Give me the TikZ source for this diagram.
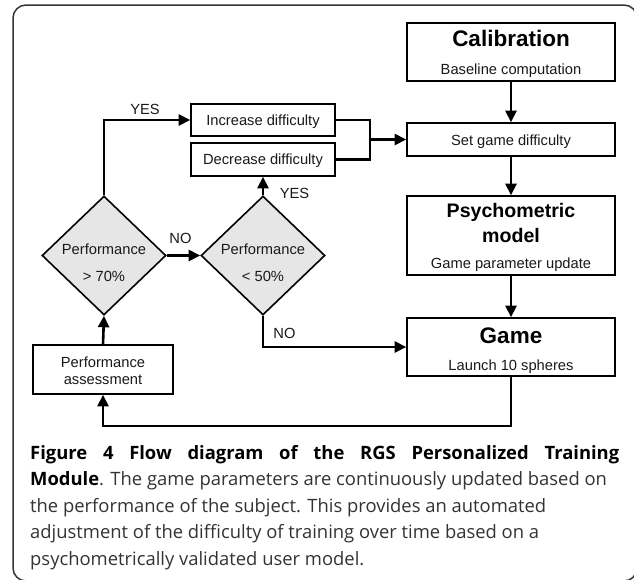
\documentclass[tikz,border=0pt]{standalone}
\usepackage{fontspec}
\setmainfont{Liberation Sans}
\newfontfamily\capfont{Open Sans}
\usetikzlibrary{shapes.geometric,arrows.meta}
\definecolor{diafill}{HTML}{E6E6E6}
\definecolor{captxt}{HTML}{333333}
\definecolor{frm}{HTML}{333333}
\newcommand\dgsmall{\fontsize{14.7}{17}\selectfont}
\newcommand\dgbig{\fontsize{22.5}{26}\selectfont\bfseries}
\newcommand\dgmid{\fontsize{19.6}{23}\selectfont\bfseries}
\newcommand\capsz{\fontsize{18.4}{21}\selectfont}
\begin{document}
\begin{tikzpicture}[x=1pt,y=-1pt,
  box/.style={draw=black, line width=1.6pt, fill=white, rectangle, inner sep=0pt},
  dia/.style={diamond, draw=black, line width=1.6pt, fill=diafill, inner sep=0pt,
              minimum width=124pt, minimum height=119pt},
  txt/.style={inner sep=0pt, anchor=base, font=\dgsmall, text=black!90},
  conn/.style={line width=2.6pt, -{Triangle[length=11.5pt,width=11pt]}},
  plainline/.style={line width=2.6pt},
  captext/.style={inner sep=0pt, anchor=base west, font=\capfont\capsz, text=captxt}]
\useasboundingbox (0,0) rectangle (634,579);
\draw[line width=1.5pt, draw=frm, rounded corners=13pt] (13,5) rectangle (637,581);

% boxes
\node[box, minimum width=208pt, minimum height=58pt] (calib) at (511,52) {};
\node[box, minimum width=208pt, minimum height=33pt] (setd) at (511,139.5) {};
\node[box, minimum width=208pt, minimum height=79pt] (psych) at (511,235.5) {};
\node[box, minimum width=208pt, minimum height=58pt] (game) at (511,347) {};
\node[box, minimum width=144pt, minimum height=32pt] (inc) at (263,120) {};
\node[box, minimum width=144pt, minimum height=33pt] (dec) at (263,159.5) {};
\node[box, minimum width=140pt, minimum height=49pt] (perf) at (103,369.5) {};
\node[dia] (d1) at (104,255.5) {};
\node[dia] (d2) at (263,255.5) {};

% texts
\node[txt, font=\dgbig, text=black] (t1) at (511,46) {Calibration};
\node[txt] (t2) at (511,74.3) {Baseline computation};
\node[txt] (t3) at (511,145.3) {Set game difficulty};
\node[txt, font=\dgmid, text=black] (t4) at (511,217) {Psychometric};
\node[txt, font=\dgmid, text=black] (t5) at (511,242) {model};
\node[txt] (t6) at (511,268.3) {Game parameter update};
\node[txt, font=\dgbig, text=black] (t7) at (511,343) {Game};
\node[txt] (t8) at (511,370) {Launch 10 spheres};
\node[txt] (t9) at (263,125.3) {Increase difficulty};
\node[txt] (t10) at (263,164.8) {Decrease difficulty};
\node[txt] (t11) at (104,254.3) {Performance};
\node[txt] (t12) at (104,281.3) {> 70\%};
\node[txt] (t13) at (263,254.3) {Performance};
\node[txt] (t14) at (263,281.3) {< 50\%};
\node[txt] (t15) at (103,367) {Performance};
\node[txt] (t16) at (103,384.7) {assessment};

% labels
\node[txt] (yes1) at (145,114.3) {YES};
\node[txt] (no1) at (180.5,243.3) {NO};
\node[txt] (yes2) at (294.5,198.3) {YES};
\node[txt] (no2) at (284.5,338.3) {NO};

% connectors
\coordinate (m) at (370,139.5);
\draw[conn] (calib.south) -- (setd.north);
\draw[conn] (setd.south) -- (psych.north);
\draw[conn] (psych.south) -- (game.north);
\draw[plainline] (inc.east) -| (m);
\draw[plainline] (dec.east) -| (m);
\draw[conn] (m) -- (setd.west);
\draw[conn] (d1.north) |- (inc.west);
\draw[conn] (d1.east) -- (d2.west);
\draw[conn] (d2.north) -- (dec.south);
\draw[conn] (d2.south) |- (game.west);
\draw[conn] (perf.north) -- (d1.south);
\draw[conn] (game.south) -- ++(0,49) -| (perf.south);

% caption
\node[captext, text=black] (c1) at (30,459) {\makebox[589pt][s]{\bfseries Figure 4 Flow diagram of the RGS Personalized Training}};
\node[captext] (c2) at (30,485.5) {{\bfseries\color{black}Module}. The game parameters are continuously updated based on};
\node[captext] (c3) at (30,512) {the performance of the subject. This provides an automated};
\node[captext] (c4) at (30,538.5) {adjustment of the difficulty of training over time based on a};
\node[captext] (c5) at (30,565) {psychometrically validated user model.};
\end{tikzpicture}
\end{document}
